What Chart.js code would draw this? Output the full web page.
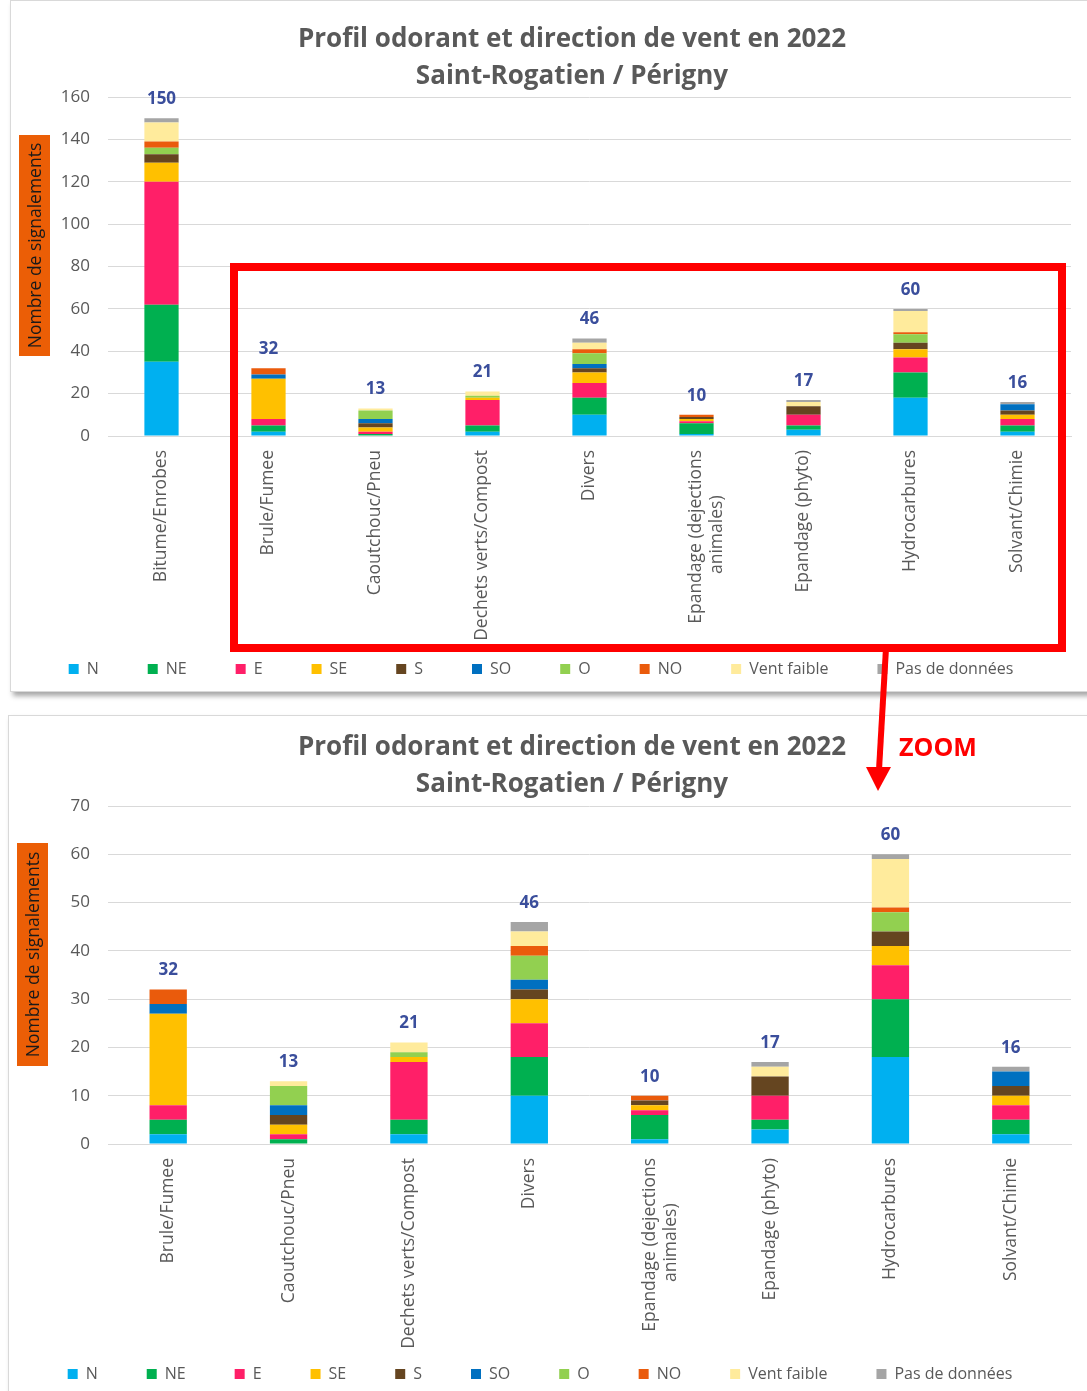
<!DOCTYPE html>
<html>
<head>
<meta charset="utf-8">
<script src="https://cdn.jsdelivr.net/npm/chart.js@4.4.0/dist/chart.umd.min.js"></script>
<style>
    body { margin: 0; background: #fff; width: 1087px; height: 1391px; position: relative; overflow: hidden; }
    .box { position: absolute; background: #fff; border: 1px solid #d9d9d9; box-shadow: 3px 4px 5px rgba(0,0,0,0.35); }
    #box1 { left: 10px; top: 0; width: 1077px; height: 690px; }
    #box2 { left: 8px; top: 715px; width: 1079px; height: 676px; }
    #zoomTxt { position: absolute; left: 899px; top: 729px; font: bold 25px 'Open Sans', sans-serif; color: #ff0000; }
    svg { position: absolute; left: 0; top: 0; }
</style>
</head>
<body>
<div class="box" id="box1"><canvas id="chart1" width="1077" height="690"></canvas></div>
<div class="box" id="box2"><canvas id="chart2" width="1079" height="676"></canvas></div>
<svg width="1087" height="1391">
    <rect x="234" y="267" width="828" height="381" fill="none" stroke="#ff0000" stroke-width="8"/>
    <line x1="886" y1="648" x2="879" y2="770" stroke="#ff0000" stroke-width="6"/>
    <polygon points="866,767 891,767 878,791" fill="#ff0000"/>
</svg>
<div id="zoomTxt">ZOOM</div>
<script>
// categories
const categories = ['Bitume/Enrobes', 'Brule/Fumee', 'Caoutchouc/Pneu', 'Dechets verts/Compost', 'Divers',
    ['Epandage (dejections', 'animales)'], 'Epandage (phyto)', 'Hydrocarbures', 'Solvant/Chimie'];

// nombre de signalements par direction de vent
const N   = [35, 2, 0, 2, 10, 1, 3, 18, 2];
const NE  = [27, 3, 1, 3, 8, 5, 2, 12, 3];
const E   = [58, 3, 1, 12, 7, 1, 5, 7, 3];
const SE  = [9, 19, 2, 1, 5, 1, 0, 4, 2];
const S   = [4, 0, 2, 0, 2, 1, 4, 3, 2];
const SO  = [0, 2, 2, 0, 2, 0, 0, 0, 3];
const O   = [3, 0, 4, 1, 5, 0, 0, 4, 0];
const NO  = [3, 3, 0, 0, 2, 1, 0, 1, 0];
const ventFaible = [9, 0, 1, 2, 3, 0, 2, 10, 0];
const pasDeDonnees = [2, 0, 0, 0, 2, 0, 1, 1, 1];

const seriesNames = ['N', 'NE', 'E', 'SE', 'S', 'SO', 'O', 'NO', 'Vent faible', 'Pas de données'];
const seriesData = [N, NE, E, SE, S, SO, O, NO, ventFaible, pasDeDonnees];
const seriesColors = ['#00B0F0', '#00B050', '#FF1F68', '#FFC000', '#654520', '#0070C0', '#92D050', '#EA5B0C', '#FFEB9C', '#A5A5A5'];

const titleLines = ['Profil odorant et direction de vent en 2022', 'Saint-Rogatien / Périgny'];
const yTitle = 'Nombre de signalements';

Chart.defaults.font.family = "'Open Sans', sans-serif";
Chart.defaults.color = '#595959';

const tickFont = '17.5px "Open Sans", sans-serif';
const measureCtx = document.createElement('canvas').getContext('2d');
measureCtx.font = tickFont;

// centre les lignes d'un label sur deux lignes (Chart.js les aligne a droite quand elles sont tournees)
function centerLines(label) {
    if (!Array.isArray(label)) return label;
    const w = label.map(t => measureCtx.measureText(t).width);
    const maxW = Math.max(...w);
    const sp = measureCtx.measureText(' ').width;
    return label.map((t, i) => t + ' '.repeat(Math.round((maxW - w[i]) / 2 / sp)));
}

const decorPlugin = {
    id: 'decor',
    afterDatasetsDraw(chart, args, opts) {
        const ctx = chart.ctx;
        const x = chart.scales.x, y = chart.scales.y;
        ctx.save();
        // totals above bars
        ctx.font = 'bold 17px "Open Sans", sans-serif';
        ctx.fillStyle = '#3A4E9C';
        ctx.textAlign = 'center';
        ctx.textBaseline = 'middle';
        const n = chart.data.labels.length;
        for (let i = 0; i < n; i++) {
            let tot = 0;
            chart.data.datasets.forEach(ds => tot += ds.data[i]);
            ctx.fillText(tot, x.getPixelForValue(i), y.getPixelForValue(tot) - 19);
        }
        // title
        ctx.font = 'bold 26px "Open Sans", sans-serif';
        ctx.fillStyle = '#595959';
        ctx.fillText(titleLines[0], opts.titleX, opts.titleY);
        ctx.fillText(titleLines[1], opts.titleX, opts.titleY + 37);
        // y axis title box
        ctx.fillStyle = '#EB5E06';
        ctx.fillRect(8, opts.boxTop, 31, opts.boxH);
        ctx.translate(24, opts.boxTop + opts.boxH / 2);
        ctx.rotate(-Math.PI / 2);
        ctx.fillStyle = '#1a1a1a';
        ctx.font = '17.5px "Open Sans", sans-serif';
        ctx.fillText(yTitle, 0, 1);
        ctx.restore();
    }
};

function signalementsChart(id, labels, data, yMax, yStep, o) {
    const datasets = [];
    for (let i = 0; i < seriesNames.length; i++) {
        datasets.push({
            label: seriesNames[i],
            data: data[i],
            backgroundColor: seriesColors[i],
            barPercentage: o.barPct,
            categoryPercentage: 1
        });
    }
    const config = {
        type: 'bar',
        data: { labels: labels, datasets: datasets },
        plugins: [decorPlugin],
        options: {
            responsive: false,
            animation: false,
            layout: { padding: { top: o.top, right: o.right, left: 0, bottom: o.bottom } },
            scales: {
                x: {
                    stacked: true,
                    grid: { display: false },
                    border: { color: '#d9d9d9' },
                    ticks: {
                        minRotation: 90, maxRotation: 90, font: { size: 17.5 }, color: '#595959', padding: 6,
                        callback: function (v) { return centerLines(this.getLabelForValue(v)); }
                    },
                    afterFit: s => {
                        s.height = o.xH;
                        s._computeLabelArea = () => undefined; // ne pas couper les labels longs
                    }
                },
                y: {
                    stacked: true,
                    min: 0, max: yMax,
                    grid: { color: '#d9d9d9', drawTicks: false },
                    border: { display: false },
                    ticks: { stepSize: yStep, font: { size: 17 }, color: '#595959', padding: 18 },
                    afterFit: s => { s.width = o.yW; }
                }
            },
            plugins: {
                legend: {
                    position: 'bottom',
                    labels: { boxWidth: 10, boxHeight: 10, padding: 49, font: { size: 16 }, color: '#595959' }
                },
                tooltip: { enabled: false },
                decor: { titleX: o.titleX, titleY: o.titleY, boxTop: o.boxTop, boxH: o.boxH }
            }
        }
    };
    new Chart(document.getElementById(id).getContext('2d'), config);
}

signalementsChart('chart1', categories, seriesData, 160, 20,
    { barPct: 0.32, top: 96, right: 17, bottom: 4, yW: 97, xH: 176, titleX: 561, titleY: 39, boxTop: 134, boxH: 221 });

signalementsChart('chart2', categories.slice(1), seriesData.map(a => a.slice(1)), 70, 10,
    { barPct: 0.31, top: 90, right: 17, bottom: 0, yW: 99, xH: 173, titleX: 563, titleY: 32, boxTop: 127, boxH: 223 });
</script>
</body>
</html>
